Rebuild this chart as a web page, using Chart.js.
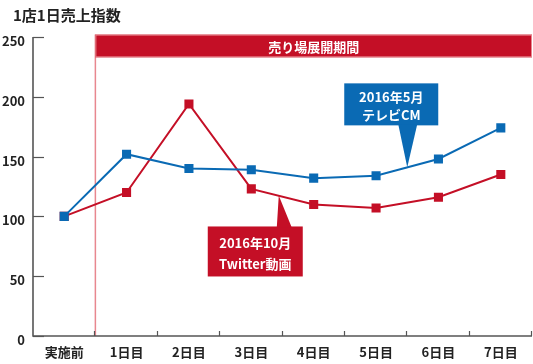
<!DOCTYPE html>
<html>
<head>
<meta charset="utf-8">
<script src="https://cdn.jsdelivr.net/npm/chart.js@4/dist/chart.umd.min.js"></script>
<style>
html,body{margin:0;padding:0;background:#fff;}
#wrap{position:relative;width:533px;height:364px;}
</style>
</head>
<body>
<div id="wrap"><canvas id="c" width="533" height="364"></canvas></div>
<script>
const categories = ['実施前','1日目','2日目','3日目','4日目','5日目','6日目','7日目'];
const tvSeries = [100,152,140,139,132,134,148,174];
const twitterSeries = [100,120,194,123,110,107,116,135];
const yTicks = [0,50,100,150,200,250];
const titleText = '1店1日売上指数';
const bannerText = '売り場展開期間';
const tvCallout = ['2016年5月','テレビCM'];
const twCallout = ['2016年10月','Twitter動画'];

const RED = '#C40F26';
const BLUE = '#0A6AB4';
const FONT = '"Noto Sans CJK JP", "Noto Sans", sans-serif';

const decor = {
  id: 'decor',
  beforeDatasetsDraw(chart) {
    const {ctx, chartArea: a, scales: {x, y}} = chart;
    ctx.save();
    // title
    ctx.fillStyle = '#222';
    ctx.font = 'bold 15px ' + FONT;
    ctx.textBaseline = 'middle';
    ctx.textAlign = 'left';
    ctx.fillText(titleText, 13, 15);
    // pink period line
    const bx = x.getPixelForValue(0.5);
    ctx.strokeStyle = '#E8878F';
    ctx.lineWidth = 1.5;
    ctx.beginPath(); ctx.moveTo(bx, y.getPixelForValue(252)); ctx.lineTo(bx, a.bottom); ctx.stroke();
    // banner
    const bt = y.getPixelForValue(252), bb = y.getPixelForValue(233);
    ctx.fillStyle = RED;
    ctx.fillRect(bx, bt, a.right - bx, bb - bt);
    ctx.strokeStyle = '#E8878F'; ctx.lineWidth = 1;
    ctx.strokeRect(bx + 0.5, bt + 0.5, a.right - bx - 1, bb - bt - 1);
    ctx.fillStyle = '#fff';
    ctx.font = 'bold 13px ' + FONT;
    ctx.textAlign = 'center';
    ctx.fillText(bannerText, (bx + a.right) / 2, (bt + bb) / 2 + 1);
    // axes
    ctx.strokeStyle = '#555';
    ctx.lineWidth = 1.6;
    ctx.beginPath();
    ctx.moveTo(a.left, y.getPixelForValue(250)); ctx.lineTo(a.left, a.bottom); ctx.lineTo(a.right, a.bottom);
    ctx.stroke();
    ctx.lineWidth = 1.2;
    yTicks.forEach(v => {
      const py = Math.round(y.getPixelForValue(v)) + 0.5;
      ctx.beginPath(); ctx.moveTo(a.left, py); ctx.lineTo(a.left + 11, py); ctx.stroke();
    });
    for (let i = 0; i < categories.length; i++) {
      const px = Math.round(x.getPixelForValue(i + 0.5)) - 0.5;
      ctx.beginPath(); ctx.moveTo(px, a.bottom); ctx.lineTo(px, a.bottom - 5); ctx.stroke();
    }
    ctx.restore();
  },
  afterDatasetsDraw(chart) {
    const {ctx, scales: {x, y}} = chart;
    function callout(color, lines, tipIdx, tipVal, box, base) {
      const tx = x.getPixelForValue(tipIdx), ty = y.getPixelForValue(tipVal);
      const L = tx + box[0], T = ty + box[1], W = box[2], H = box[3];
      ctx.save();
      ctx.fillStyle = color;
      ctx.fillRect(L, T, W, H);
      ctx.beginPath();
      const edge = box[1] < 0 ? T + H - 1 : T + 1;
      ctx.moveTo(tx + base[0], edge);
      ctx.lineTo(tx + base[1], edge);
      ctx.lineTo(tx, ty);
      ctx.closePath();
      ctx.fill();
      ctx.fillStyle = '#fff';
      ctx.font = 'bold 13px ' + FONT;
      ctx.textAlign = 'center';
      ctx.textBaseline = 'middle';
      ctx.fillText(lines[0], L + W / 2, T + H * 0.33);
      ctx.fillText(lines[1], L + W / 2, T + H * 0.76);
      ctx.restore();
    }
    callout(BLUE, tvCallout, 5.5, 141, [-63, -84, 94, 42], [-9, 10]);
    callout(RED, twCallout, 3.44, 117.5, [-71, 31, 95, 50], [-2, 13]);
  }
};

new Chart(document.getElementById('c'), {
  type: 'line',
  data: {
    labels: categories,
    datasets: [
      {
        label: 'Twitter', data: twitterSeries, borderColor: RED, backgroundColor: RED,
        borderWidth: 2, pointStyle: 'rect', pointRadius: 5, pointHoverRadius: 5, tension: 0, order: 2
      },
      {
        label: 'TV', data: tvSeries, borderColor: BLUE, backgroundColor: BLUE,
        borderWidth: 2, pointStyle: 'rect', pointRadius: 5, pointHoverRadius: 5, tension: 0, order: 1
      }
    ]
  },
  options: {
    responsive: false,
    animation: false,
    events: [],
    layout: { autoPadding: false, padding: { top: 37, right: 1, left: 0, bottom: 0 } },
    plugins: { legend: { display: false }, tooltip: { enabled: false } },
    scales: {
      x: {
        type: 'category', offset: true,
        grid: { display: false, drawTicks: false },
        border: { display: false },
        ticks: { color: '#222', font: { family: FONT, size: 13, weight: 'bold' }, padding: 8, maxRotation: 0, autoSkip: false },
        afterFit(s) { s.height = 28; s.paddingLeft = 0; s.paddingRight = 0; }
      },
      y: {
        min: 0, max: 250,
        afterBuildTicks(s) { s.ticks = yTicks.map(v => ({ value: v })); },
        grid: { display: false, drawTicks: false },
        border: { display: false },
        ticks: { color: '#222', font: { family: FONT, size: 13, weight: 'bold' }, padding: 8, labelOffset: 4 },
        afterFit(s) { s.width = 33; s.paddingTop = 0; s.paddingBottom = 0; }
      }
    }
  },
  plugins: [decor]
});
</script>
</body>
</html>
